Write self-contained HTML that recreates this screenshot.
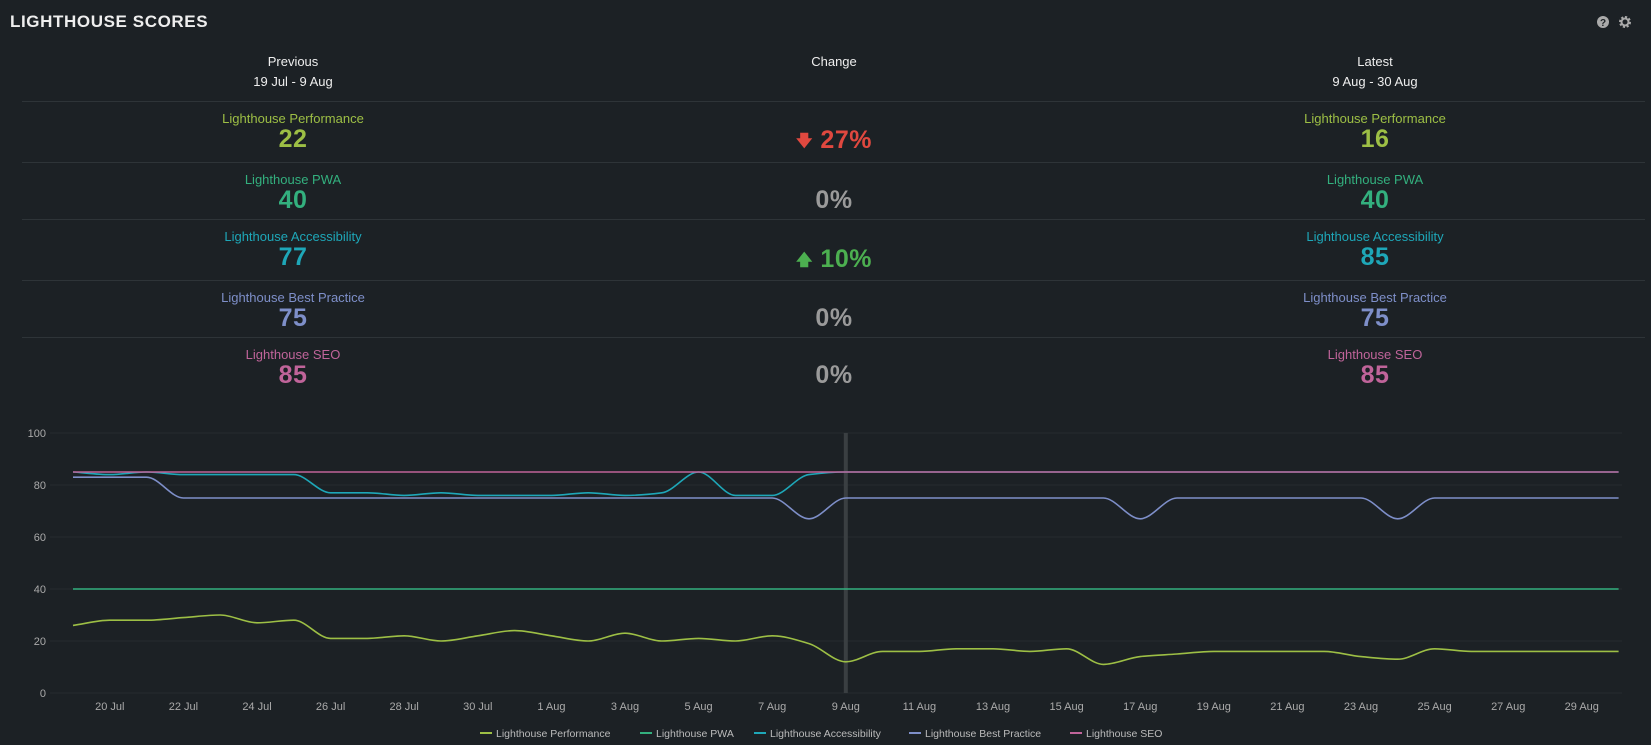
<!DOCTYPE html>
<html><head><meta charset="utf-8"><style>
body{margin:0;width:1651px;height:745px;background:#1c2125;font-family:"Liberation Sans",sans-serif;color:#e8e8e8;position:relative;overflow:hidden}
.t{position:absolute;white-space:nowrap;transform:translateX(-50%)}
.title{position:absolute;left:10px;top:12px;font-size:17px;font-weight:bold;color:#eee;letter-spacing:0.6px}
.hd{font-size:13px;color:#eee}
.lb{font-size:13px}
.num{font-size:25px;font-weight:bold;letter-spacing:0.5px}
.div{position:absolute;left:22px;width:1623px;height:1px;background:#2e3438}
.ch{font-size:25px;font-weight:bold;letter-spacing:0.5px}
</style></head><body>
<div class="title">LIGHTHOUSE SCORES</div>
<svg style="position:absolute;left:1596px;top:15px" width="40" height="14">
<circle cx="7" cy="7" r="6" fill="#aaa"/><text x="7" y="11" font-size="10" font-weight="bold" text-anchor="middle" fill="#1c2125" font-family="Liberation Sans">?</text>
<circle cx="29" cy="7" r="4.5" fill="none" stroke="#aaa" stroke-width="3" stroke-dasharray="2 1.5"/><circle cx="29" cy="7" r="3.5" fill="none" stroke="#aaa" stroke-width="2"/>
</svg>
<div class="t hd" style="left:293px;top:54px">Previous</div>
<div class="t hd" style="left:293px;top:74px">19 Jul - 9 Aug</div>
<div class="t hd" style="left:834px;top:54px">Change</div>
<div class="t hd" style="left:1375px;top:54px">Latest</div>
<div class="t hd" style="left:1375px;top:74px">9 Aug - 30 Aug</div>
<div class="div" style="top:101px"></div><div class="div" style="top:162px"></div><div class="div" style="top:219px"></div><div class="div" style="top:280px"></div><div class="div" style="top:337px"></div>

<div class="t lb" style="left:293px;top:111px;color:#9dbf45">Lighthouse Performance</div>
<div class="t num" style="left:293px;top:125px;color:#9dbf45">22</div>
<div class="t lb" style="left:1375px;top:111px;color:#9dbf45">Lighthouse Performance</div>
<div class="t num" style="left:1375px;top:125px;color:#9dbf45">16</div>
<div class="t ch" style="left:834px;top:126px;color:#e0483f"><span style="font-size:16px;vertical-align:2px">&#129095;</span> 27%</div>

<div class="t lb" style="left:293px;top:172px;color:#33b07e">Lighthouse PWA</div>
<div class="t num" style="left:293px;top:186px;color:#33b07e">40</div>
<div class="t lb" style="left:1375px;top:172px;color:#33b07e">Lighthouse PWA</div>
<div class="t num" style="left:1375px;top:186px;color:#33b07e">40</div>
<div class="t ch" style="left:834px;top:186px;color:#9a9a9a">0%</div>

<div class="t lb" style="left:293px;top:229px;color:#1ea7b8">Lighthouse Accessibility</div>
<div class="t num" style="left:293px;top:243px;color:#1ea7b8">77</div>
<div class="t lb" style="left:1375px;top:229px;color:#1ea7b8">Lighthouse Accessibility</div>
<div class="t num" style="left:1375px;top:243px;color:#1ea7b8">85</div>
<div class="t ch" style="left:834px;top:245px;color:#4caf50"><span style="font-size:16px;vertical-align:2px">&#129093;</span> 10%</div>

<div class="t lb" style="left:293px;top:290px;color:#7e8fc9">Lighthouse Best Practice</div>
<div class="t num" style="left:293px;top:304px;color:#7e8fc9">75</div>
<div class="t lb" style="left:1375px;top:290px;color:#7e8fc9">Lighthouse Best Practice</div>
<div class="t num" style="left:1375px;top:304px;color:#7e8fc9">75</div>
<div class="t ch" style="left:834px;top:304px;color:#9a9a9a">0%</div>

<div class="t lb" style="left:293px;top:347px;color:#c0649a">Lighthouse SEO</div>
<div class="t num" style="left:293px;top:361px;color:#c0649a">85</div>
<div class="t lb" style="left:1375px;top:347px;color:#c0649a">Lighthouse SEO</div>
<div class="t num" style="left:1375px;top:361px;color:#c0649a">85</div>
<div class="t ch" style="left:834px;top:361px;color:#9a9a9a">0%</div>

<svg id="c" style="position:absolute;left:0;top:0" width="1651" height="745" font-family="Liberation Sans"></svg>
<script>
var s=document.getElementById('c'),h='';
function Y(v){return 693-v*2.6}
for(var v=0;v<=100;v+=20){h+='<line x1="50" x2="1622" y1="'+Y(v)+'" y2="'+Y(v)+'" stroke="#262c30" stroke-width="1"/>';
h+='<text x="46" y="'+(Y(v)+4)+'" font-size="11" fill="#aaa" text-anchor="end">'+v+'</text>';}
function X(i){return 73+i*36.8}
h+='<rect x="'+(X(21)-2)+'" y="433" width="4" height="260" fill="#3a3f42"/>';
var labs=['20 Jul','22 Jul','24 Jul','26 Jul','28 Jul','30 Jul','1 Aug','3 Aug','5 Aug','7 Aug','9 Aug','11 Aug','13 Aug','15 Aug','17 Aug','19 Aug','21 Aug','23 Aug','25 Aug','27 Aug','29 Aug'];
for(var k=0;k<labs.length;k++)h+='<text x="'+X(1+2*k)+'" y="710" font-size="11" fill="#aaa" text-anchor="middle">'+labs[k]+'</text>';
function rep(v,n){var a=[];for(var i=0;i<n;i++)a.push(v);return a}
var perf=[26,28,28,29,30,27,28,21,21,22,20,22,24,22,20,23,20,21,20,22,19,12,16,16,17,17,16,17,11,14,15,16,16,16,16,14,13,17,16,16,16,16,16];
var acc=[85,84,85,84,84,84,84,77,77,76,77,76,76,76,77,76,77,85,76,76,84,85].concat(rep(85,21));
var bp=[83,83,83,75].concat(rep(75,16),[67],rep(75,8),[67],rep(75,6),[67],rep(75,6));
var seo=rep(85,43),pwa=rep(40,43);
function path(d){var n=d.length,x=[],y=[];for(var i=0;i<n;i++){x.push(X(i));y.push(Y(d[i]))}
var m=[],t=[];for(i=0;i<n-1;i++)m.push((y[i+1]-y[i])/(x[i+1]-x[i]));
for(i=0;i<n;i++){if(i==0)t.push(m[0]);else if(i==n-1)t.push(m[n-2]);else{if(m[i-1]*m[i]<=0)t.push(0);else{t.push(2/(1/m[i-1]+1/m[i]))}}}
var p='M'+x[0]+','+y[0];for(i=0;i<n-1;i++){var dx=(x[i+1]-x[i])/3;p+='C'+(x[i]+dx)+','+(y[i]+t[i]*dx)+' '+(x[i+1]-dx)+','+(y[i+1]-t[i+1]*dx)+' '+x[i+1]+','+y[i+1]}return p}
var S=[[perf,'#9dbf45'],[pwa,'#33b07e'],[bp,'#7e8fc9'],[acc,'#1ea7b8'],[seo,'#c0649a']];
for(k=0;k<S.length;k++)h+='<path d="'+path(S[k][0])+'" fill="none" stroke="'+S[k][1]+'" stroke-width="1.6"/>';
var L=[['Lighthouse Performance','#9dbf45',480],['Lighthouse PWA','#33b07e',640],['Lighthouse Accessibility','#1ea7b8',754],['Lighthouse Best Practice','#7e8fc9',909],['Lighthouse SEO','#c0649a',1070]];
for(k=0;k<L.length;k++){var lx=L[k][2];h+='<line x1="'+lx+'" x2="'+(lx+12)+'" y1="733" y2="733" stroke="'+L[k][1]+'" stroke-width="2"/>';
h+='<text x="'+(lx+16)+'" y="737" font-size="10.5" fill="#bbb">'+L[k][0]+'</text>';}
s.innerHTML=h;
</script>
</body></html>
